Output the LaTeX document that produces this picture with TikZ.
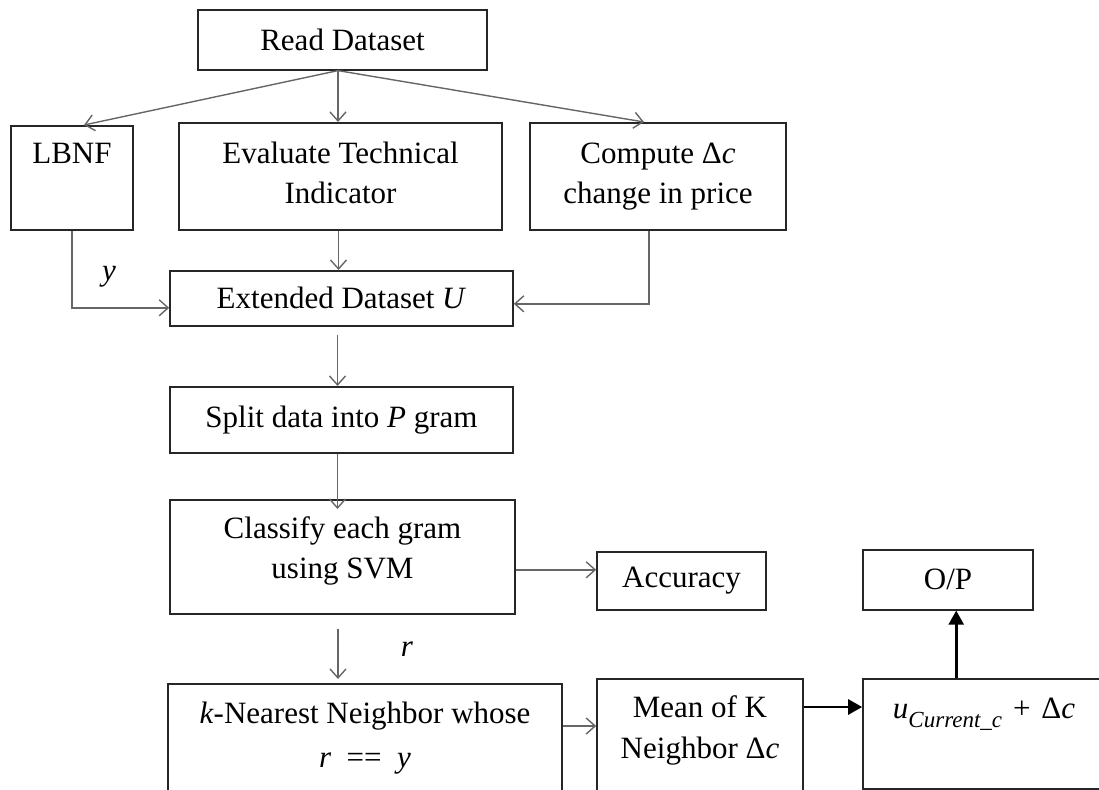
\documentclass[tikz,border=0pt]{standalone}
\usepackage{fontspec}
\setmainfont{Liberation Serif}
\usetikzlibrary{arrows.meta,calc}
\definecolor{boxc}{HTML}{262626}
\definecolor{arrc}{HTML}{666666}
\begin{document}
\begin{tikzpicture}[x=1pt,y=-1pt,
  every node/.style={font=\fontsize{31}{40}\selectfont},
  box/.style={draw=boxc, line width=1.6pt, inner sep=0pt, align=center, anchor=north},
  arr/.style={draw=arrc, line width=1.4pt, -{Straight Barb[length=9pt,width=16pt,line width=1.4pt]}},
  barr/.style={draw=black, line width=2.6pt, -{Triangle[length=14pt,width=15pt]}},
  lbl/.style={font=\fontsize{31}{40}\selectfont\itshape}
]
\useasboundingbox (0,0) rectangle (1099,789);
\clip (0,0) rectangle (1099,789);

\node[box, minimum width=289pt, minimum height=60pt] (read) at (342.5,9) {Read Dataset};
\node[box, minimum width=122pt, text height=38pt, text depth=66pt] (lbnf) at (72,125) {LBNF};
\node[box, minimum width=323pt, text height=81pt, text depth=26pt] (eval) at (340.5,122) {Evaluate Technical\\Indicator};
\node[box, minimum width=256pt, text height=81pt, text depth=26pt] (comp) at (658,122) {Compute Δ\textit{c}\\change in price};
\node[box, minimum width=343pt, minimum height=55pt] (ext) at (341.5,270) {Extended Dataset \textit{U}};
\node[box, minimum width=343pt, minimum height=66pt] (split) at (341.5,386) {Split data into \textit{P} gram};
\node[box, minimum width=345pt, text height=79pt, text depth=35pt] (cls) at (342.5,499) {Classify each gram\\using SVM};
\node[box, minimum width=169pt, minimum height=58pt] (acc) at (681.5,551) {Accuracy};
\node[box, minimum width=170pt, minimum height=60pt] (op) at (948,549) {O/P};
\node[box, minimum width=394pt, text height=84pt, text depth=33pt] (knn) at (365,683) {\textit{k}-Nearest Neighbor whose\\[4pt]\textit{r}\enspace==\enspace\textit{y}};
\node[box, minimum width=206pt, text height=80pt, text depth=42pt] (mean) at (700,678) {Mean of K\\[1pt]Neighbor Δ\textit{c}};
\node[box, minimum width=242pt, text height=40pt, text depth=70pt] (u) at (984,678) {\textit{u}\raisebox{-0.28em}{\fontsize{23}{23}\selectfont\textit{Current\_c}}\hspace{0.35em}+\hspace{0.35em}Δ\textit{c}};

\node[lbl] (ylab) at (109,277) {y};
\node[lbl] (rlab) at (407,649) {r};

\coordinate (rdo) at ([xshift=-4.5pt]read.south);
\draw[arr] (rdo) -- ([xshift=12pt]lbnf.north);
\draw[arr] (rdo) -- (rdo |- eval.north);
\draw[arr] (rdo) -- ([xshift=-14pt]comp.north);
\draw[arr] (lbnf.south) |- ([yshift=-9.5pt]ext.west);
\draw[arr] ([xshift=-2pt]eval.south) -- ([xshift=-2pt]eval.south |- ext.north);
\draw[arr] ([xshift=-9pt]comp.south) |- ([yshift=-5.5pt]ext.east);
\draw[arr, shorten <=8pt] ([xshift=-4pt]ext.south) -- ([xshift=-4pt]ext.south |- split.north);
\draw[arr, shorten >=-10pt] ([xshift=-4pt]split.south) -- ([xshift=-4pt]split.south |- cls.north);
\coordinate (c1) at ([yshift=-13pt]cls.east);
\draw[arr] (c1) -- (c1 -| acc.west);
\coordinate (c2) at ([xshift=-4.5pt]cls.south);
\draw[arr, shorten <=14pt, shorten >=4pt] (c2) -- (c2 |- knn.north);
\coordinate (c3) at ($(knn.north east)+(0,43)$);
\draw[arr] (c3) -- (c3 -| mean.west);
\coordinate (c4) at ($(mean.north east)+(0,29)$);
\draw[barr] (c4) -- (c4 -| u.west);
\coordinate (c5) at ($(u.north west)+(94,0)$);
\draw[barr] (c5) -- (c5 |- op.south);
\end{tikzpicture}
\end{document}
